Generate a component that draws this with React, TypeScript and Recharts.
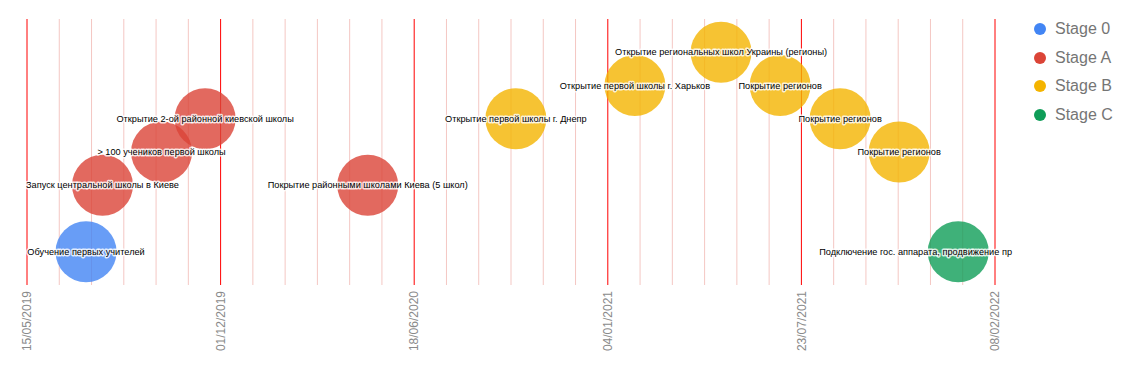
import {
  ScatterChart,
  Scatter,
  XAxis,
  YAxis,
  ReferenceLine,
  Legend,
} from "recharts";

const stageNames = ["Stage 0", "Stage A", "Stage B", "Stage C"];
const stageColors = ["#4285f4", "#db4437", "#f4b400", "#0f9d58"];

const eventLabels = [
  "Обучение первых учителей",
  "Запуск центральной школы в Киеве",
  "> 100 учеников первой школы",
  "Открытие 2-ой районной киевской школы",
  "Покрытие районными школами Киева (5 школ)",
  "Открытие первой школы г. Днепр",
  "Открытие первой школы г. Харьков",
  "Открытие региональных школ Украины (регионы)",
  "Покрытие регионов",
  "Покрытие регионов",
  "Покрытие регионов",
  "Подключение гос. аппарата, продвижение пр",
];
const eventDates = [
  "15/07/2019",
  "01/08/2019",
  "01/10/2019",
  "15/11/2019",
  "01/05/2020",
  "01/10/2020",
  "01/02/2021",
  "01/05/2021",
  "01/07/2021",
  "01/09/2021",
  "01/11/2021",
  "01/01/2022",
];
const eventLevels = [1, 3, 4, 5, 3, 5, 6, 7, 6, 5, 4, 1];
const eventStages = [0, 1, 1, 1, 1, 2, 2, 2, 2, 2, 2, 3];

const tickLabels = [
  "15/05/2019",
  "01/12/2019",
  "18/06/2020",
  "04/01/2021",
  "23/07/2021",
  "08/02/2022",
];

const toTime = (s: string) => {
  const [d, m, y] = s.split("/").map(Number);
  return Date.UTC(y, m - 1, d);
};
const pad = (n: number) => String(n).padStart(2, "0");
const fmt = (t: number) => {
  const dt = new Date(t);
  return `${pad(dt.getUTCDate())}/${pad(dt.getUTCMonth() + 1)}/${dt.getUTCFullYear()}`;
};

const majorTicks = tickLabels.map(toTime);
const minorTicks: number[] = [];
for (let i = 0; i < majorTicks.length - 1; i++) {
  const step = (majorTicks[i + 1] - majorTicks[i]) / 6;
  for (let k = 1; k < 6; k++) minorTicks.push(majorTicks[i] + k * step);
}

const points = eventLabels.map((label, i) => ({
  label,
  t: toTime(eventDates[i]),
  level: eventLevels[i],
  stage: eventStages[i],
}));

const font = "'Liberation Sans', Arial, sans-serif";
// labels that would run past this x get pushed back inside, like the original does
const labelLimit = 1012;

const Bubble = (color: string) => (props: any) => (
  <circle cx={props.cx} cy={props.cy} r={30.5} fill={color} fillOpacity={0.8} />
);

const BubbleLabel = (props: any) => {
  const label: string = props.payload.label;
  const half = label.length * 2.35;
  const overflow = props.cx + half > labelLimit;
  return (
    <text
      x={overflow ? labelLimit : props.cx}
      y={props.cy}
      dy="0.35em"
      textAnchor={overflow ? "end" : "middle"}
      fontFamily={font}
      fontSize={9.2}
      fill="#000"
      stroke="#fff"
      strokeWidth={3}
      strokeOpacity={0.8}
      strokeLinejoin="round"
      paintOrder="stroke"
    >
      {label}
    </text>
  );
};

const DateTick = (props: any) => {
  const { x, y, payload } = props;
  return (
    <text
      x={x}
      y={y}
      dy="0.35em"
      transform={`rotate(-90 ${x} ${y})`}
      textAnchor="end"
      fontFamily={font}
      fontSize={12}
      fill="#8a8a8a"
    >
      {fmt(payload.value)}
    </text>
  );
};

const LegendBox = () => (
  <div style={{ fontFamily: font, fontSize: 16, color: "#757575" }}>
    {stageNames.map((name, i) => (
      <div
        key={name}
        style={{ display: "flex", alignItems: "center", height: 28.7 }}
      >
        <svg width={12} height={12} style={{ marginLeft: 6, marginRight: 9 }}>
          <circle cx={6} cy={6} r={6} fill={stageColors[i]} />
        </svg>
        <span>{name}</span>
      </div>
    ))}
  </div>
);

export default function App() {
  return (
    <div style={{ position: "absolute", left: 0, top: 0, background: "#fff" }}>
      <ScatterChart
        width={1141}
        height={371}
        margin={{ top: 19, right: 146, bottom: 16, left: 27 }}
      >
        <XAxis
          dataKey="t"
          type="number"
          domain={[majorTicks[0], majorTicks[majorTicks.length - 1]]}
          ticks={majorTicks}
          interval={0}
          axisLine={false}
          tickLine={false}
          tickSize={0}
          tickMargin={6}
          height={70}
          tick={<DateTick />}
        />
        <YAxis dataKey="level" type="number" domain={[0, 8]} hide />
        {minorTicks.map((v) => (
          <ReferenceLine key={"m" + v} x={v} stroke="#f4c7c3" strokeWidth={1} />
        ))}
        {majorTicks.map((v) => (
          <ReferenceLine key={"M" + v} x={v} stroke="#ff0000" strokeWidth={1} />
        ))}
        {stageNames.map((name, s) => (
          <Scatter
            key={name}
            name={name}
            data={points.filter((p) => p.stage === s)}
            shape={Bubble(stageColors[s])}
            isAnimationActive={false}
          />
        ))}
        <Scatter
          name="labels"
          data={points}
          shape={BubbleLabel}
          legendType="none"
          isAnimationActive={false}
        />
        <Legend
          layout="vertical"
          align="center"
          verticalAlign="middle"
          wrapperStyle={{ left: 1028, top: 14.6, width: 113 }}
          content={<LegendBox />}
        />
      </ScatterChart>
    </div>
  );
}
